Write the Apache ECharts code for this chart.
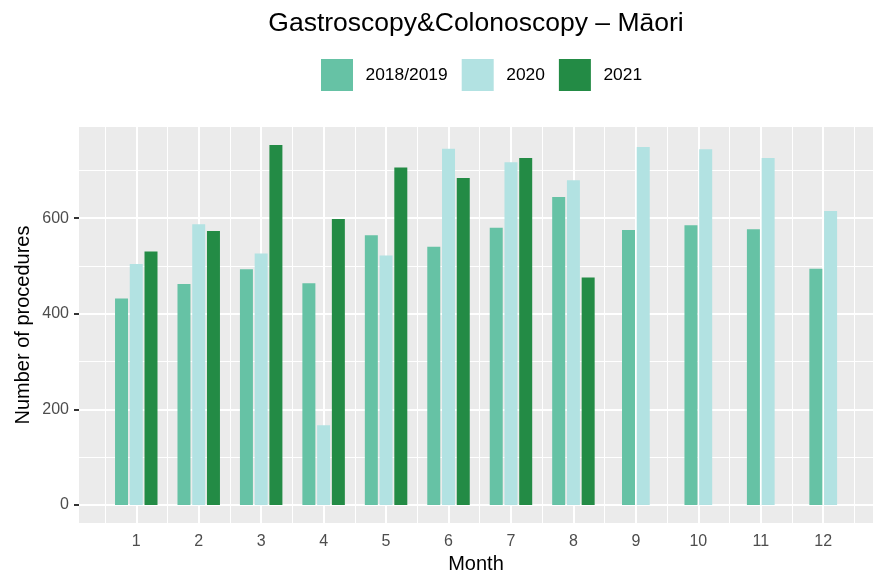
<!DOCTYPE html>
<html>
<head>
<meta charset="utf-8">
<script src="https://cdn.jsdelivr.net/npm/echarts@6/dist/echarts.min.js"></script>
<style>
html,body{margin:0;padding:0;background:#fff;}
#chart{width:874px;height:575px;}
</style>
</head>
<body>
<div id="chart"></div>
<script>
// ---- data ----
const months = [1, 2, 3, 4, 5, 6, 7, 8, 9, 10, 11, 12];
const seriesNames = ['2018/2019', '2020', '2021'];
const values2018_2019 = [432, 462, 493, 464, 564, 540, 580, 644, 575, 585, 577, 494];
const values2020 = [504, 587, 526, 167, 522, 745, 717, 679, 749, 744, 726, 615];
const values2021 = [530, 573, 753, 598, 706, 684, 726, 476, null, null, null, null];
const yTicks = [0, 200, 400, 600];
const yMinorTicks = [100, 300, 500, 700];
const xMinorTicks = [0.5, 1.5, 2.5, 3.5, 4.5, 5.5, 6.5, 7.5, 8.5, 9.5, 10.5, 11.5, 12.5];

const colors = ['#66C2A5', '#B2E2E2', '#238B45'];
const allValues = [values2018_2019, values2020, values2021];

// build dodge data: [month, value, nInGroup, indexInGroup]
function buildData(si) {
  const out = [];
  months.forEach((m, i) => {
    const present = allValues.map(a => a[i] != null);
    const n = present.filter(Boolean).length;
    if (!present[si]) return;
    let k = 0;
    for (let j = 0; j < si; j++) if (present[j]) k++;
    out.push([m, allValues[si][i], n, k]);
  });
  return out;
}

const STEP = 0.236, BARW = 0.208;
function renderBar(color) {
  return function (params, api) {
    const m = api.value(0), v = api.value(1), n = api.value(2), k = api.value(3);
    const unit = api.size([1, 0])[0];
    const off = (k - (n - 1) / 2) * STEP;
    const p0 = api.coord([m + off, 0]);
    const p1 = api.coord([m + off, v]);
    const w = BARW * unit;
    return {
      type: 'rect',
      shape: { x: p0[0] - w / 2, y: p1[1], width: w, height: p0[1] - p1[1] },
      style: { fill: color }
    };
  };
}

const white = '#FFFFFF';
const gridMarkData = []
  .concat(months.map(v => ({ xAxis: v, lineStyle: { width: 2, color: white, type: 'solid' } })))
  .concat(xMinorTicks.map(v => ({ xAxis: v, lineStyle: { width: 1, color: white, type: 'solid' } })))
  .concat(yTicks.map(v => ({ yAxis: v, lineStyle: { width: 2, color: white, type: 'solid' } })))
  .concat(yMinorTicks.map(v => ({ yAxis: v, lineStyle: { width: 1, color: white, type: 'solid' } })));

const FONT = 'Liberation Sans, Arial, Helvetica, sans-serif';
const chart = echarts.init(document.getElementById('chart'), null, { renderer: 'canvas' });
chart.setOption({
  animation: false,
  backgroundColor: '#FFFFFF',
  title: {
    text: 'Gastroscopy&Colonoscopy – Māori',
    left: 471, textAlign: 'center', top: 5,
    textStyle: { fontFamily: FONT, fontSize: 26.5, fontWeight: 'normal', color: '#000000' }
  },
  legend: {
    data: seriesNames,
    left: 321, top: 59, padding: 0,
    icon: 'rect', itemWidth: 32, itemHeight: 32, itemGap: 14,
    selectedMode: false,
    textStyle: { fontFamily: FONT, fontSize: 17.4, color: '#000000', padding: [0, 0, 0, 7.5] }
  },
  grid: {
    left: 79, top: 127, right: 1, bottom: 52,
    show: true, backgroundColor: '#EBEBEB', borderWidth: 0,
    containLabel: false, outerBoundsMode: 'none'
  },
  xAxis: {
    type: 'value', min: 0.083, max: 12.797,
    name: 'Month', nameLocation: 'middle', nameGap: 31, nameMoveOverlap: false,
    nameTextStyle: { fontFamily: FONT, fontSize: 20, color: '#000000' },
    axisLine: { show: false },
    axisTick: { show: true, customValues: months, length: 5, lineStyle: { color: '#333333', width: 2 } },
    axisLabel: { customValues: months, margin: 11, fontFamily: FONT, fontSize: 16, color: '#4D4D4D' },
    splitLine: { show: false }
  },
  yAxis: {
    type: 'value', min: -37.6, max: 790.6,
    name: 'Number of procedures', nameLocation: 'middle', nameGap: 46, nameRotate: 90, nameMoveOverlap: false,
    nameTextStyle: { fontFamily: FONT, fontSize: 20, color: '#000000' },
    axisLine: { show: false },
    axisTick: { show: true, customValues: yTicks, length: 5, lineStyle: { color: '#333333', width: 2 } },
    axisLabel: { customValues: yTicks, margin: 10, fontFamily: FONT, fontSize: 16, color: '#4D4D4D' },
    splitLine: { show: false }
  },
  series: [
    {
      name: 'gridlines', type: 'line', data: [], silent: true, z: 1,
      markLine: { silent: true, z: 1, symbol: ['none', 'none'], label: { show: false }, animation: false, data: gridMarkData }
    }
  ].concat(seriesNames.map((nm, si) => ({
    name: nm, type: 'custom', z: 3,
    itemStyle: { color: colors[si] },
    renderItem: renderBar(colors[si]),
    encode: { x: 0, y: 1 },
    data: buildData(si)
  })))
});
</script>
</body>
</html>
